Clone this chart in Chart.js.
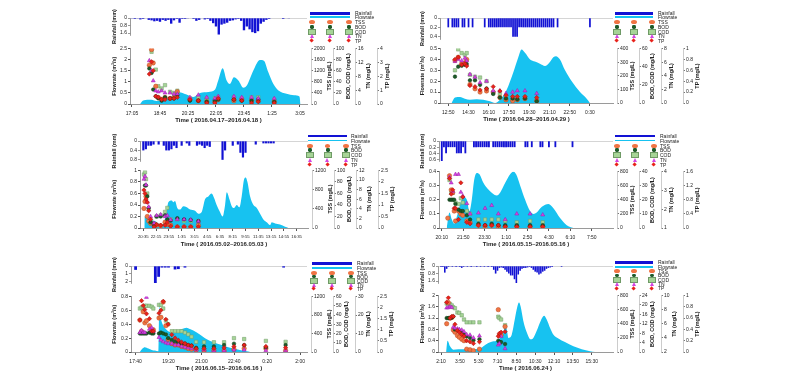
<!DOCTYPE html>
<html lang="en">
<head>
<meta charset="UTF-8" />
<title>Rainfall, flowrate and pollutant concentrations</title>
<script src="https://cdn.jsdelivr.net/npm/chart.js"></script>
<style>
  body { margin: 0; width: 800px; height: 384px; background: #fff; position: relative; overflow: hidden;
         font-family: "Liberation Sans", Arial, sans-serif; color: #222; }
  canvas { position: absolute; }
  .ax-title { position: absolute; font-size: 5.5px; font-weight: bold; white-space: nowrap;
              transform: translate(-50%, -50%) rotate(-90deg); }
  .lg-text { position: absolute; font-size: 5px; line-height: 5px; transform: translateY(-50%); white-space: nowrap; }
  .lg-bar, .lg-mk { position: absolute; }
</style>
</head>
<body>
<script>
// ---- panel 1 : 2016.04.17~18 (minutes from 17:05)
const p1Time = ['17:05','18:45','20:25','22:05','23:45','1:25','3:05'];
const p1RainT = [0,10,20,30,40,60,70,80,90,100,110,120,130,140,150,160,170,180,190,200,220,230,240,260,270,280,290,300,310,320,330,340,350,360,370,380,390,400,410,420,430,440,450,460,470,480,490,540,560];
const p1RainV = [0.05,0.1,0.05,0.15,0.1,0.2,0.25,0.35,0.3,0.4,0.2,0.3,0.2,0.6,0.25,0.1,0.5,0.1,0.1,0.05,0.1,0.3,0.2,0.15,0.1,0.3,0.55,0.9,1.75,0.7,0.6,0.5,0.3,0.25,0.15,0.1,0.3,1.3,0.9,1.2,1.5,1.6,1.4,0.6,0.4,0.2,0.1,0.1,0.05];
const p1FlowT = [29,40,70,88,106,136,162,195,219,243,273,296,308,324,338,350,364,380,398,410,433,457,471,487,505,523,552,579,598,602];
const p1FlowV = [0,0.16,0.19,0.13,0.16,0.3,0.54,0.43,0.31,0.49,0.54,0.64,1.06,1.61,1.06,0.9,1.2,1.06,0.73,0.83,1.5,1.98,1.95,1.43,0.9,0.61,0.46,0.39,0.34,0];
const p1SampleT = [62,70,76,85,94,106,118,136,150,162,207,237,267,296,308,364,392,427,451,508];
const p1TSS = [1400,1960,1480,640,240,160,240,200,240,440,160,120,80,80,160,120,160,120,120,80];
const p1BOD = [64,56,26,14,10,6,12,10,10,16,6,6,4,6,8,8,6,6,8,4];
const p1COD = [null,94,null,62,32,28,34,22,20,24,10,12,10,10,12,12,10,12,12,8];
const p1TN = [12.5,9.6,6.7,3.8,3.5,3.8,3.2,3.2,2.9,2.9,1.9,2.6,1.9,1.6,2.2,2.2,1.9,1.9,1.6,1.6];
const p1TP = [2.16,3.04,2.4,0.56,0.48,0.32,0.32,0.4,0.4,0.48,0.32,0.24,0.08,0.08,0.4,0.32,0.24,0.08,0.16,0.08];

// ---- panel 2 : 2016.04.28~29 (minutes from 12:50)
const p2Time = ['12:50','14:30','16:10','17:50','19:30','21:10','22:50','0:30'];
const p2RainT = [0,20,30,40,50,70,80,100,120,180,200,210,220,230,240,250,260,270,280,290,300,310,320,330,340,350,360,370,380,390,400,410,420,430,440,450,460,470,480,490,500,510,520,540,700];
const p2RainV = [0.2,0.2,0.2,0.2,0.2,0.2,0.2,0.2,0.2,0.2,0.2,0.2,0.2,0.2,0.2,0.2,0.2,0.2,0.2,0.2,0.2,0.2,0.4,0.4,0.4,0.2,0.2,0.2,0.2,0.2,0.2,0.2,0.2,0.2,0.2,0.2,0.2,0.2,0.2,0.2,0.2,0.2,0.2,0.2,0.2];
const p2FlowT = [16,33,58,82,107,140,173,206,231,255,288,321,346,362,379,404,428,453,478,499,519,532,552,577,610,651,684,700];
const p2FlowV = [0,0.05,0.055,0.04,0.03,0.035,0.03,0.015,0,0.03,0.12,0.28,0.42,0.49,0.46,0.4,0.38,0.36,0.34,0.37,0.42,0.43,0.4,0.3,0.2,0.1,0.04,0];
const p2SampleT = [33,49,66,82,91,107,132,157,189,222,255,285,318,341,379,437];
const p2TSS = [312,336,288,296,320,136,104,80,88,80,40,24,16,24,32,16];
const p2BOD = [29,40,41,42,43,25,25,20,16,10,6,5,5,4,5,2];
const p2COD = [36,59,55,53,55,31,29,28,24,11,10,7,6,6,6,4];
const p2TN = [6.1,6.4,6.2,6.6,6.2,4.2,3.8,3.0,3.2,1.8,1.8,1.4,1.6,1.8,1.8,1.4];
const p2TP = [0.8,0.84,0.7,0.72,0.68,0.32,0.3,0.24,0.26,0.3,0.22,0.14,0.12,0.12,0.12,0.1];

// ---- panel 3 : 2016.05.02~03 (minutes from 20:35)
const p3Time = ['20:35','22:15','23:55','1:35','3:15','4:55','6:35','8:15','9:55','11:35','13:15','14:55','16:35'];
const p3RainT = [0,20,40,60,80,120,160,180,200,220,240,260,300,340,360,420,440,460,480,500,520,620,640,700,740,760,780,800,880,940,960,980,1000,1020];
const p3RainV = [0.4,0.35,0.2,0.2,0.15,0.15,0.2,0.4,0.4,0.35,0.2,0.3,0.2,0.1,0.2,0.2,0.15,0.2,0.3,0.2,0.25,0.8,0.4,0.2,0.15,0.5,0.7,0.5,0.15,0.1,0.1,0.1,0.1,0.1];
const p3FlowT = [8,10,26,52,91,117,144,162,183,196,222,235,248,266,287,313,340,366,405,431,457,483,509,535,554,574,600,621,640,653,674,692,710,731,752,770,789,802,815,836,862,888,914,940,966,992,1005,1031,1070,1110,1136];
const p3FlowV = [0,0.2,0.18,0.15,0.12,0.08,0.05,0.1,0.3,0.45,0.48,0.45,0.47,0.35,0.32,0.38,0.36,0.32,0.3,0.25,0.28,0.5,0.55,0.6,0.52,0.4,0.28,0.2,0.4,0.62,0.5,0.38,0.35,0.4,0.36,0.55,0.85,0.88,0.8,0.55,0.4,0.35,0.25,0.15,0.1,0.05,0.1,0.08,0.06,0.02,0];
const p3SampleT = [5,13,21,31,42,57,84,104,136,170,188,214,266,319,371,431];
const p3TSS = [408,552,660,240,144,96,84,60,48,120,72,60,24,24,24,60];
const p3BOD = [null,74,74,55,35,10,6,20,20,22,15,13,17,15,14,12];
const p3COD = [93,97,85,60,33,12,6,20,22,28,35,15,15,12,12,12];
const p3TN = [10.2,10.8,9.0,5.4,4.4,2.4,1.0,2.6,2.8,2.4,2.6,1.7,1.8,1.8,1.7,1.4];
const p3TP = [1.65,1.5,1.25,1.12,0.75,0.38,0.05,0.15,0.12,0.12,0.25,0.08,0.05,0.05,0.05,0.05];

// ---- panel 4 : 2016.05.15~16 (minutes from 20:10)
const p4Time = ['20:10','21:50','23:30','1:10','2:50','4:30','6:10','7:50'];
const p4RainT = [0,10,20,30,40,50,60,70,80,90,100,110,150,160,170,180,190,200,210,220,240,250,260,270,280,290,300,310,320,330,340,390,400,420,460,470,500,530,610];
const p4RainV = [0.65,0.2,0.4,0.2,0.2,0.2,0.2,0.4,0.4,0.4,0.2,0.4,0.2,0.2,0.2,0.2,0.2,0.2,0.2,0.2,0.2,0.2,0.2,0.2,0.2,0.2,0.2,0.2,0.2,0.2,0.2,0.2,0.2,0.2,0.2,0.2,0.2,0.2,0.2];
const p4FlowT = [23,36,47,58,70,86,101,117,129,140,151,163,176,194,213,233,257,272,296,319,334,347,366,389,412,428,443,467,498,521,552,583,614];
const p4FlowV = [0,0.11,0.06,0.03,0.08,0.17,0.22,0.2,0.12,0.2,0.34,0.39,0.38,0.32,0.28,0.25,0.23,0.25,0.32,0.38,0.4,0.38,0.3,0.2,0.12,0.1,0.11,0.15,0.17,0.14,0.07,0.02,0];
const p4SampleT = [28,36,44,51,58,64,78,89,98,117,132,171,202,233,264,296,350,412,471];
const p4TSS = [140,740,540,500,240,100,240,200,180,100,80,40,20,40,20,20,20,20,20];
const p4BOD = [null,20,20,20,20,17,13,12,12,9,6,3,2,3,2,2,2,2,2];
const p4COD = [null,34,25,25,null,18,17,21,18,12,10,6,6,6,6,5,4,5,4];
const p4TN = [null,3.7,3.4,2.95,null,3.85,3.85,2.9,2.7,2.3,1.75,1.8,2.05,2.2,1.75,1.45,1.75,1.75,1.7];
const p4TP = [null,1.4,0.96,1.08,0.56,0.56,0.24,1.28,0.88,0.16,0.12,0.08,0.08,0.08,0.08,0.04,0.04,0.04,0.04];

// ---- panel 5 : 2016.06.15~16 (minutes from 17:40)
const p5Time = ['17:40','19:20','21:00','22:40','0:20','2:00'];
const p5RainT = [0,60,70,80,90,100,120,130,150,450];
const p5RainV = [0.5,2.2,1.4,0.2,0.2,0.2,0.45,0.4,0.2,0.2];
const p5FlowT = [13,21,28,39,49,59,69,72,76,82,94,110,125,140,155,165,186,211,236,262,287,317,338,348];
const p5FlowV = [0,0.05,0.07,0.05,0.03,0.02,0.01,0.66,0.5,0.4,0.32,0.28,0.3,0.33,0.35,0.33,0.28,0.2,0.14,0.1,0.06,0.03,0.01,0];
const p5SampleT = [13,18,23,28,33,42,49,54,71,77,84,92,99,110,120,130,140,150,160,170,184,208,238,269,299,330,396,456];
const p5TSS = [690,450,870,630,675,570,450,480,735,750,1080,570,270,180,150,150,120,105,75,60,45,30,30,30,60,75,75,30];
const p5BOD = [20,20,20,20,20,21,20,20,20,21,20,19,15,13,11,10.5,9,9,7.5,7,4.5,6,6,7.5,9,7.5,5,7.5];
const p5COD = [47,48,49,50,50,50,49,47,51,51,47,34,30,22.5,22.5,22.5,22.5,21,19,16.5,11,10.5,10.5,10.5,15,14,12,11];
const p5TN = [10.5,11.6,10.5,10.5,29.6,12.4,13.1,11.3,7.9,6.4,5.6,4.9,4.5,4.5,3.8,3.8,3,2.6,2.3,1.9,1.1,1.1,0.8,0.8,1.1,1.1,0.8,0.8];
const p5TP = [1.44,2.31,2.09,1.91,1.72,1.5,0.94,0.94,1.75,1.88,2.28,1.47,1.25,0.78,0.63,0.53,0.44,0.38,0.31,0.28,0.16,0.16,0.16,0.19,0.25,0.31,0.25,0.19];

// ---- panel 6 : 2016.06.24 (minutes from 2:10)
const p6Time = ['2:10','3:50','5:30','7:10','8:50','10:30','12:10','13:50','15:30'];
const p6RainT = [0,10,20,30,40,50,60,70,80,90,100,110,120,130,140,150,160,170,180,190,200,210,220,230,240,250,260,270,280,290,300,310,320,330,340,350,360,370,380,390,400,410,420,430,440,450,460,470,480,490,500,510,520,530,540,550,560,570,580,590,640];
const p6RainV = [0.1,0.1,0.7,0.3,0.1,0.05,0.1,0.05,0.1,0.05,0.1,0.2,0.1,0.05,0.1,0.05,0.1,0.05,0.05,0.1,0.05,0.1,0.05,0.1,0.05,0.1,0.05,0.1,0.4,0.8,0.5,0.2,0.15,0.2,0.4,0.6,0.8,1.0,1.0,1.4,1.8,0.9,0.5,0.3,0.2,0.2,0.15,0.1,0.2,0.4,0.6,0.7,0.9,0.8,0.6,0.5,0.3,0.2,0.15,0.1,0.1];
const p6FlowT = [27,35,48,65,92,136,172,207,225,251,278,296,313,331,340,349,358,375,393,405,414,423,437,455,476,490,508,529,547,561,579,596,623,658,703,747,791,818];
const p6FlowV = [0,0.4,0.2,0.08,0.1,0.1,0.1,0.12,0.2,0.32,0.38,0.4,0.5,0.68,0.95,0.8,0.5,0.6,1.2,1.6,1.75,1.6,1.1,0.7,0.45,0.5,0.75,1.1,1.28,1.15,0.85,0.62,0.48,0.35,0.2,0.1,0.03,0];
const p6SampleT = [30,39,48,57,65,74,87,97,110,122,136,154,172,204,304,310,319,340];
const p6TSS = [400,700,480,488,312,280,232,208,180,160,40,32,20,40,600,240,240,360];
const p6BOD = [14.4,14.4,14.4,14.6,15.1,9.6,9.4,9.1,8.4,7.4,6.6,6,5,5.4,4.8,4.3,4.2,3.4];
const p6COD = [20.6,20.4,20.4,19.8,19,18.6,16.8,16.6,15.6,13.8,12.6,12.6,12.6,12.6,15,14.4,13.8,11.4];
const p6TN = [8.24,8.28,8.4,8.32,5.52,5.4,5.28,5.2,5.12,4.88,4.48,4.4,4,4.28,3,3.2,4.2,2.48];
const p6TP = [0.88,0.96,0.6,0.63,0.63,0.49,0.38,0.35,0.31,0.28,0.2,0.18,0.15,0.18,0.28,0.33,0.35,0.36];

const rightTitles = ['TSS (mg/L)', 'BOD, COD (mg/L)', 'TN (mg/L)', 'TP (mg/L)'];

// layout of each panel (pixel geometry and axis ranges)
const panels = [
  { x0:108, plotL:130, plotR:307, rainTop:18, rainBot:35, rainMax:1.8, rainTicks:[0,0.8,1.6],
    flowTop:48, flowBot:104, flowMax:2.5, flowStep:0.5, xMin:-7, xMax:625, xFont:5,
    right:[[0,2000,400],[0,100,20],[0,16,4],[0,4,1]], title:'Time ( 2016.04.17~2016.04.18 )',
    time:p1Time, rainT:p1RainT, rainV:p1RainV, flowT:p1FlowT, flowV:p1FlowV,
    st:p1SampleT, tss:p1TSS, bod:p1BOD, cod:p1COD, tn:p1TN, tp:p1TP,
    leg:[310,350,355], legY:[13.3,17.3,22.3,27,31.7,36.3,41] },
  { x0:416, plotL:440, plotR:613, rainTop:18, rainBot:39, rainMax:0.45, rainTicks:[0,0.2,0.4],
    flowTop:48, flowBot:103, flowMax:0.5, flowStep:0.1, xMin:-41, xMax:814, xFont:5,
    right:[[0,400,100],[0,60,20],[0,8,2],[0,1,0.2]], title:'Time ( 2016.04.28~2016.04.29 )',
    time:p2Time, rainT:p2RainT, rainV:p2RainV, flowT:p2FlowT, flowV:p2FlowV,
    st:p2SampleT, tss:p2TSS, bod:p2BOD, cod:p2COD, tn:p2TN, tp:p2TP,
    leg:[615,653,658], legY:[13.3,17.3,22.3,27,31.7,36.3,41] },
  { x0:108, plotL:140, plotR:308, rainTop:141, rainBot:161, rainMax:0.85, rainTicks:[0,0.4,0.8],
    flowTop:170, flowBot:228, flowMax:1, flowStep:0.2, xMin:-26, xMax:1289, xFont:4.3,
    right:[[0,1200,400],[0,100,20],[0,12,2],[0,2.5,0.5]], title:'Time ( 2016.05.02~2016.05.03 )',
    time:p3Time, rainT:p3RainT, rainV:p3RainV, flowT:p3FlowT, flowV:p3FlowV,
    st:p3SampleT, tss:p3TSS, bod:p3BOD, cod:p3COD, tn:p3TN, tp:p3TP,
    leg:[308,347,351], legY:[136,140.5,145.5,150,155,159.5,164.5] },
  { x0:416, plotL:439, plotR:613, rainTop:141, rainBot:161, rainMax:0.65, rainTicks:[0,0.2,0.4,0.6],
    flowTop:171, flowBot:228, flowMax:0.4, flowStep:0.1, xMin:-13, xMax:799, xFont:5,
    right:[[0,800,200],[0,40,10],[1,4,1],[0,1.6,0.4]], title:'Time ( 2016.05.15~2016.05.16 )',
    time:p4Time, rainT:p4RainT, rainV:p4RainV, flowT:p4FlowT, flowV:p4FlowV,
    st:p4SampleT, tss:p4TSS, bod:p4BOD, cod:p4COD, tn:p4TN, tp:p4TP,
    leg:[615,655,660], legY:[136,140.5,145.5,150,155,159.5,164.5] },
  { x0:108, plotL:131, plotR:307, rainTop:266, rainBot:283, rainMax:2.2, rainTicks:[0,1,2],
    flowTop:296, flowBot:352, flowMax:0.8, flowStep:0.2, xMin:-14, xMax:521, xFont:5,
    right:[[0,1200,400],[0,60,10],[0,30,10],[0,2.5,0.5]], title:'Time ( 2016.06.15~2016.06.16 )',
    time:p5Time, rainT:p5RainT, rainV:p5RainV, flowT:p5FlowT, flowV:p5FlowV,
    st:p5SampleT, tss:p5TSS, bod:p5BOD, cod:p5COD, tn:p5TN, tp:p5TP,
    leg:[312,352,357], legY:[263.3,268,272.5,276.7,281,285,289] },
  { x0:416, plotL:438, plotR:613, rainTop:266, rainBot:283, rainMax:1.8, rainTicks:[0,0.8,1.6],
    flowTop:295, flowBot:352, flowMax:2, flowStep:0.4, xMin:-16, xMax:913, xFont:5,
    right:[[0,800,200],[0,24,4],[2,10,2],[0,1,0.2]], title:'Time ( 2016.06.24 )',
    time:p6Time, rainT:p6RainT, rainV:p6RainV, flowT:p6FlowT, flowV:p6FlowV,
    st:p6SampleT, tss:p6TSS, bod:p6BOD, cod:p6COD, tn:p6TN, tp:p6TP,
    leg:[615,653,658], legY:[262.3,266.7,271,275.3,279.7,284,288.3] }
];

const RAIN = '#1212d4';
const FLOW = '#17c2f0';
const AXIS = '#555';
const W_AX = 22, GAP = 4, X_H = 21;
Chart.defaults.font.family = '"Liberation Sans", Arial, sans-serif';
Chart.defaults.color = '#222';

const measure = document.createElement('canvas').getContext('2d');
measure.font = '5px "Liberation Sans", Arial, sans-serif';

function fmt(v) { return String(+v.toFixed(3)); }
function steps(min, max, step) {
  const out = [];
  for (let v = min; v <= max + 1e-9; v += step) out.push(+v.toFixed(4));
  return out;
}
function xy(t, v) { return t.map((x, i) => ({ x: x, y: v[i] })).filter(p => p.y != null); }
function setTicks(vals) { return s => { s.ticks = vals.map(v => ({ value: v })); }; }
function place(el, x, y, w, h) {
  el.width = w; el.height = h;
  el.style.left = x + 'px'; el.style.top = y + 'px';
  el.style.width = w + 'px'; el.style.height = h + 'px';
  document.body.appendChild(el);
}
function div(cls, css, text) {
  const d = document.createElement('div');
  d.className = cls;
  Object.assign(d.style, css);
  if (text) d.textContent = text;
  document.body.appendChild(d);
  return d;
}
const tickFont = { size: 5 };
const titleFont = { size: 5.5, weight: 'bold' };

function rainChart(p) {
  const padT = 14, padB = 10;
  const c = document.createElement('canvas');
  place(c, p.x0, p.rainTop - padT, p.plotR - p.x0, p.rainBot - p.rainTop + padT + padB);
  new Chart(c, {
    type: 'bar',
    data: { datasets: [{ data: xy(p.rainT, p.rainV), backgroundColor: RAIN,
                         barPercentage: 1, categoryPercentage: 0.85 }] },
    options: {
      responsive: false, animation: false, events: [],
      layout: { padding: { top: padT, bottom: padB, left: 0, right: 0 } },
      plugins: { legend: { display: false }, tooltip: { enabled: false } },
      scales: {
        x: { type: 'linear', min: p.xMin, max: p.xMax, offset: false, display: false },
        y: {
          min: 0, max: p.rainMax, reverse: true,
          afterFit: s => { s.width = p.plotL - p.x0; },
          afterBuildTicks: setTicks(p.rainTicks),
          ticks: { font: tickFont, padding: 1, autoSkip: false, callback: v => fmt(v) },
          grid: { color: c => (c.tick && c.tick.value === 0 ? '#b8b8b8' : 'rgba(0,0,0,0)'),
                  lineWidth: 0.6, tickLength: 2, tickColor: AXIS },
          border: { color: AXIS, width: 0.6 },
          title: { display: true, text: 'Rainfall (mm)', font: titleFont, padding: { top: 3, bottom: 0 } }
        }
      }
    }
  });
}

function mainChart(p) {
  const padT = 4;
  const c = document.createElement('canvas');
  const top = p.flowTop - padT;
  place(c, p.x0, top, p.plotR - p.x0 + GAP + 4 * W_AX, p.flowBot - p.flowTop + padT + X_H);

  const ids = ['tss', 'bc', 'tn', 'tp'];
  const scales = {
    x: {
      type: 'linear', position: 'bottom', min: p.xMin, max: p.xMax,
      afterFit: s => { s.height = X_H; },
      afterBuildTicks: setTicks(p.time.map((_, i) => i * 100)),
      ticks: { font: { size: p.xFont }, padding: 3.5, maxRotation: 0, autoSkip: false,
               callback: v => p.time[Math.round(v / 100)] },
      grid: { drawOnChartArea: false, tickLength: 3, tickColor: AXIS },
      border: { color: AXIS, width: 0.6 },
      title: { display: true, text: p.title, font: { size: 6, weight: 'bold' }, padding: { top: 0, bottom: 1 } }
    },
    y: {
      position: 'left', min: 0, max: p.flowMax,
      afterFit: s => { s.width = p.plotL - p.x0; },
      afterBuildTicks: setTicks(steps(0, p.flowMax, p.flowStep)),
      ticks: { font: tickFont, padding: 1, autoSkip: false, callback: v => fmt(v) },
      grid: { drawOnChartArea: false, tickLength: 2, tickColor: AXIS },
      border: { color: AXIS, width: 0.6 },
      title: { display: true, text: 'Flowrate (m³/s)', font: titleFont, padding: { top: 3, bottom: 0 } }
    },
    gap: {
      position: 'right', afterFit: s => { s.width = GAP; },
      ticks: { display: false }, grid: { display: false }, border: { display: false }
    }
  };
  ids.forEach((id, k) => {
    const r = p.right[k];
    scales[id] = {
      position: 'right', min: r[0], max: r[1],
      afterFit: s => { s.width = W_AX; },
      afterBuildTicks: setTicks(steps(r[0], r[1], r[2])),
      ticks: { font: tickFont, padding: 1, autoSkip: false, callback: v => fmt(v) },
      grid: { drawOnChartArea: false, tickLength: 2, tickColor: '#777' },
      border: { color: '#999', width: 0.5 }
    };
  });

  const pt = (label, data, yAxisID, style, r, fill, line, order) => ({
    type: 'scatter', label, data, yAxisID, pointStyle: style, pointRadius: r,
    backgroundColor: fill, borderColor: line, borderWidth: 0.5, order
  });

  const chart = new Chart(c, {
    type: 'scatter',
    data: {
      datasets: [
        { type: 'line', label: 'Flowrate', data: xy(p.flowT, p.flowV), yAxisID: 'y',
          borderWidth: 0, pointRadius: 0, fill: 'origin', backgroundColor: FLOW,
          cubicInterpolationMode: 'monotone', order: 10 },
        pt('COD', xy(p.st, p.cod), 'bc', 'rect', 2.4, '#a6d497', '#6f9a66', 6),
        pt('TSS', xy(p.st, p.tss), 'tss', 'circle', 2.2, '#f07444', '#b94a1e', 5),
        pt('BOD', xy(p.st, p.bod), 'bc', 'circle', 1.8, '#1c5a28', '#0c3815', 4),
        pt('TN', xy(p.st, p.tn), 'tn', 'triangle', 2.3, '#d343e2', '#9b1aa9', 3),
        pt('TP', xy(p.st, p.tp), 'tp', 'rectRot', 2.2, '#e8221b', '#a30d08', 2)
      ]
    },
    options: {
      responsive: false, animation: false, events: [],
      layout: { padding: { top: padT, bottom: 0, left: 0, right: 0 } },
      plugins: { legend: { display: false }, tooltip: { enabled: false } },
      scales
    }
  });

  // right-hand axis titles, reading bottom to top
  ids.forEach((id, k) => {
    const s = chart.scales[id];
    const w = Math.max(...s.ticks.map(t => measure.measureText(String(t.label)).width));
    div('ax-title', { left: (p.x0 + s.left + 3 + w + 4) + 'px',
                      top: (top + (s.top + s.bottom) / 2) + 'px' }, rightTitles[k]);
  });
}

function legend(p) {
  const [bl, br, tx] = p.leg;
  const y = p.legY;
  const cols = [bl + 2, (bl + br) / 2, br - 1];
  div('lg-bar', { left: bl + 'px', top: (y[0] - 1.3) + 'px', width: (br - bl) + 'px', height: '2.6px', background: RAIN });
  div('lg-bar', { left: bl + 'px', top: (y[1] - 0.9) + 'px', width: (br - bl) + 'px', height: '1.8px', background: FLOW });
  const marks = [
    { w: 5.5, h: 4, css: { background: '#f07444', borderRadius: '50%' } },
    { w: 4, h: 3.5, css: { background: '#1c5a28', borderRadius: '40%' } },
    { w: 6, h: 4, css: { background: '#a6d497', outline: '0.5px solid #6f9a66' } },
    { w: 0, h: 0, css: { borderLeft: '2.4px solid transparent', borderRight: '2.4px solid transparent',
                         borderBottom: '4px solid #d343e2' }, tri: true },
    { w: 3.2, h: 3.2, css: { background: '#e8221b', transform: 'rotate(45deg)' } }
  ];
  marks.forEach((m, i) => {
    cols.forEach(cx => {
      const w = m.tri ? 4.8 : m.w, h = m.tri ? 4 : m.h;
      div('lg-mk', Object.assign({ left: (cx - w / 2) + 'px', top: (y[i + 2] - h / 2) + 'px',
                                   width: m.w + 'px', height: m.h + 'px' }, m.css));
    });
  });
  ['Rainfall', 'Flowrate', 'TSS', 'BOD', 'COD', 'TN', 'TP'].forEach((t, i) => {
    div('lg-text', { left: tx + 'px', top: y[i] + 'px' }, t);
  });
}

panels.forEach(p => { rainChart(p); mainChart(p); legend(p); });
</script>
</body>
</html>
